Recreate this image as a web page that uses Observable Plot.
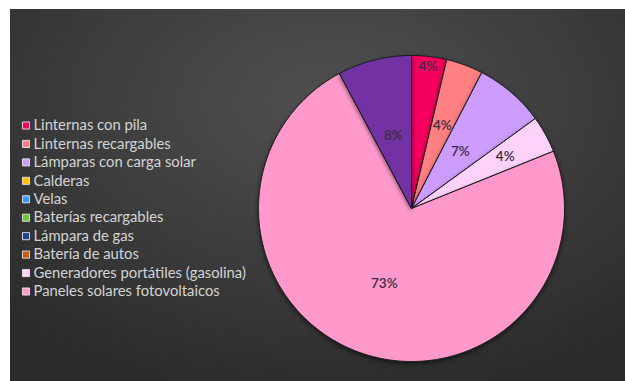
<!DOCTYPE html>
<html>
<head>
<meta charset="utf-8">
<script src="https://cdn.jsdelivr.net/npm/d3@7"></script>
<script src="https://cdn.jsdelivr.net/npm/@observablehq/plot@0.6"></script>
<style>
  html, body { margin: 0; padding: 0; background: #ffffff; }
  #wrap { position: relative; width: 625px; height: 381px; overflow: hidden; }
  #panel {
    position: absolute; left: 10px; top: 9px; width: 615px; height: 372px;
    background: radial-gradient(ellipse 75% 80% at 52% 25%, #505050 0%, #404040 45%, #2b2b2b 100%);
  }
  #panel svg { position: absolute; left: 0; top: 0; background: transparent; }
  .pie path { filter: drop-shadow(0px 2px 2px rgba(0,0,0,0.55)); }
</style>
</head>
<body>
<div id="wrap"><div id="panel"></div></div>
<script>
// ---- data ----
const categories = [
  "Linternas con pila",
  "Linternas recargables",
  "Lámparas con carga solar",
  "Calderas",
  "Velas",
  "Baterías recargables",
  "Lámpara de gas",
  "Batería de autos",
  "Generadores portátiles (gasolina)",
  "Paneles solares fotovoltaicos",
  "Otros"
];
const values = [3.7, 3.9, 7.4, 0, 0, 0, 0, 0, 3.9, 73.3, 7.8];
const colors = [
  "#f5005e", "#ff7f82", "#cc9cff", "#ffc000", "#3d9bff",
  "#6cc43c", "#1f4494", "#c85a12", "#ffd2fb", "#ff99cc", "#7232a3"
];
const inLegend = [true, true, true, true, true, true, true, true, true, true, false];
// label distance from centre as a fraction of the radius (layout)
const labelRadius = [0.93, 0.58, 0.49, 0, 0, 0, 0, 0, 0.70, 0.52, 0.49];

// ---- layout ----
const W = 615, H = 372;
const cx = 401, cy = 199, R = 153;
const FONT = "Lato, 'Open Sans', sans-serif";

const rows = categories.map((name, i) => ({name, value: values[i], color: colors[i], lr: labelRadius[i], i}));
const total = d3.sum(values);
const pie = d3.pie().sort(null).value(d => d.value)(rows);

// polygon points for each slice (angles clockwise from top)
const polys = [];
const labels = [];
for (const s of pie) {
  if (s.data.value <= 0) continue;
  const a0 = s.startAngle, a1 = s.endAngle;
  const n = Math.max(2, Math.ceil((a1 - a0) / 0.01));
  polys.push({name: s.data.name, color: s.data.color, x: 0, y: 0});
  for (let k = 0; k <= n; k++) {
    const a = a0 + (a1 - a0) * k / n;
    polys.push({name: s.data.name, color: s.data.color, x: Math.sin(a), y: Math.cos(a)});
  }
  polys.push({name: s.data.name, color: s.data.color, x: 0, y: 0});
  const am = (a0 + a1) / 2;
  labels.push({
    x: Math.sin(am) * s.data.lr,
    y: Math.cos(am) * s.data.lr,
    text: Math.round(s.data.value / total * 100) + "%"
  });
}

const piePlot = Plot.plot({
  width: W, height: H,
  margin: 0,
  style: {background: "transparent", overflow: "visible"},
  x: {domain: [-1, 1], range: [cx - R, cx + R], axis: null},
  y: {domain: [-1, 1], range: [cy + R, cy - R], axis: null},
  color: {type: "identity"},
  marks: [
    Plot.line(polys, {x: "x", y: "y", z: "name", fill: "color", stroke: "#1a1a1a", strokeWidth: 1, strokeLinejoin: "round", className: "pie"}),
    Plot.text(labels, {x: "x", y: "y", text: "text", fill: "#3e2c40", fontSize: 13.5, fontWeight: 600, fontFamily: FONT})
  ]
});

const legendRows = rows.filter((d, i) => inLegend[i]).map((d, k) => ({...d, k}));
const legendPlot = Plot.plot({
  width: W, height: H,
  margin: 0,
  style: {background: "transparent"},
  x: {axis: null},
  y: {type: "linear", domain: [0, legendRows.length - 1], range: [116, 282], axis: null},
  color: {type: "identity"},
  marks: [
    Plot.dot(legendRows, {y: "k", frameAnchor: "left", dx: 15.5, symbol: "square", r: 4, fill: "color", stroke: "#e6e6e6", strokeWidth: 0.9}),
    Plot.text(legendRows, {y: "k", text: "name", frameAnchor: "left", dx: 23, textAnchor: "start", fill: "#d4d4d4", fontSize: 14.8, fontFamily: FONT})
  ]
});

const panel = document.getElementById("panel");
panel.appendChild(piePlot);
panel.appendChild(legendPlot);
</script>
</body>
</html>
